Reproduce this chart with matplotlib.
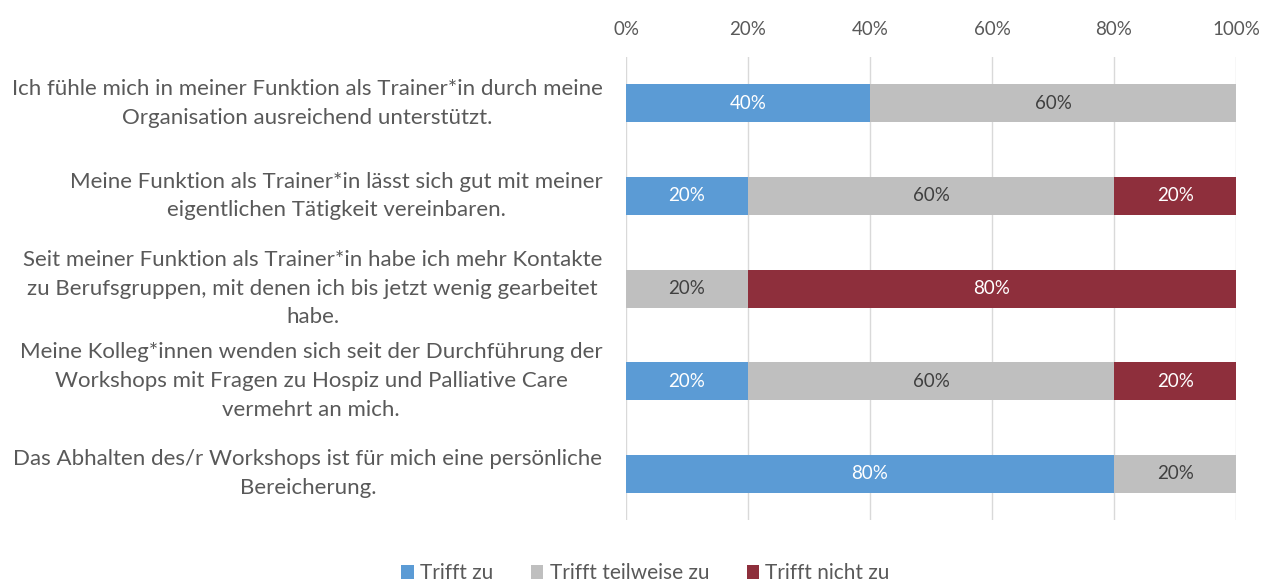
import numpy as np
import matplotlib.pyplot as plt
from matplotlib.ticker import PercentFormatter

plt.rcParams["font.family"] = ["Lato", "DejaVu Sans"]

# ============================================================
# DATA
# ============================================================

statements = [
    "Ich fühle mich in meiner Funktion als Trainer*in durch meine\nOrganisation ausreichend unterstützt.",
    "Meine Funktion als Trainer*in lässt sich gut mit meiner\neigentlichen Tätigkeit vereinbaren.",
    "Seit meiner Funktion als Trainer*in habe ich mehr Kontakte\nzu Berufsgruppen, mit denen ich bis jetzt wenig gearbeitet\nhabe.",
    "Meine Kolleg*innen wenden sich seit der Durchführung der\nWorkshops mit Fragen zu Hospiz und Palliative Care\nvermehrt an mich.",
    "Das Abhalten des/r Workshops ist für mich eine persönliche\nBereicherung.",
]

trifft_zu = [40, 20, 0, 20, 80]
trifft_teilweise = [60, 60, 20, 60, 20]
trifft_nicht = [0, 20, 80, 20, 0]

series_names = ["Trifft zu", "Trifft teilweise zu", "Trifft nicht zu"]
colors = ["#5B9BD5", "#BFBFBF", "#8E2F3C"]
label_colors = ["white", "#404040", "white"]

# ============================================================
# PLOT
# ============================================================

fig = plt.figure(figsize=(12.76, 5.82), dpi=100)
ax = fig.add_axes([0.4906, 0.1065, 0.4781, 0.7955])

y = np.arange(len(statements))
left = np.zeros(len(statements))

for vals, name, col, lcol in zip(
    [trifft_zu, trifft_teilweise, trifft_nicht], series_names, colors, label_colors
):
    vals = np.array(vals, dtype=float)
    ax.barh(y, vals, left=left, height=0.41, color=col, label=name, zorder=3)
    for yi, v, l in zip(y, vals, left):
        if v > 0:
            ax.text(l + v / 2, yi, f"{v:.0f}%", ha="center", va="center",
                    color=lcol, fontsize=13.5, zorder=4)
    left += vals

ax.set_xlim(0, 100)
ax.set_ylim(len(statements) - 0.5, -0.5)
ax.xaxis.set_major_formatter(PercentFormatter(decimals=0))
ax.set_xticks(np.arange(0, 101, 20))
ax.xaxis.tick_top()
ax.tick_params(axis="x", length=0, pad=14, labelsize=13.5, labelcolor="#595959")

ax.set_yticks(y)
ax.set_yticklabels(statements, fontsize=16, color="#595959", va="center",
                   multialignment="center", linespacing=1.55)
ax.tick_params(axis="y", length=0, pad=17)

ax.grid(axis="x", color="#D9D9D9", linewidth=1, zorder=0)
for s in ax.spines.values():
    s.set_visible(False)

fig.legend(
    loc="center",
    bbox_to_anchor=(0.506, 0.015),
    ncol=3,
    frameon=False,
    fontsize=15,
    handlelength=0.6,
    handleheight=0.6,
    handletextpad=0.3,
    columnspacing=1.8,
    labelcolor="#595959",
)

fig.savefig("out.png", dpi=100)
